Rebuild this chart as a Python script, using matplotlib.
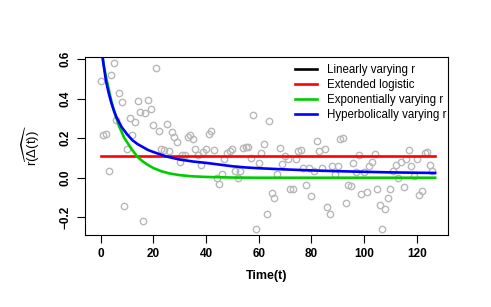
import numpy as np
import matplotlib
matplotlib.use('Agg')
import matplotlib.pyplot as plt

plt.rcParams['font.family'] = ['Liberation Sans', 'DejaVu Sans']
plt.rcParams['mathtext.fontset'] = 'custom'
plt.rcParams['mathtext.rm'] = 'Liberation Sans'
plt.rcParams['mathtext.it'] = 'Liberation Sans:italic'

# observed points, t = 0..126
r_obs = [0.487, 0.214, 0.221, 0.034, 0.52, 0.578, 0.29, 0.43, 0.384, -0.143,
         0.145, 0.30, 0.217, 0.28, 0.39, 0.33, -0.217, 0.328, 0.393, 0.349,
         0.268, 0.556, 0.237, 0.145, 0.138, 0.271, 0.133, 0.231, 0.206, 0.18,
         0.081, 0.116, 0.113, 0.207, 0.214, 0.197, 0.145, 0.113, 0.063, 0.13,
         0.145, 0.221, 0.237, 0.138, -0.002, -0.034, 0.017, 0.093, 0.123, 0.133,
         0.143, 0.035, 0.0, 0.035, 0.148, 0.157, 0.153, 0.1, 0.317, -0.261,
         0.073, 0.123, 0.169, -0.185, 0.288, -0.079, -0.101, 0.017, 0.148, 0.071,
         0.111, 0.093, -0.056, -0.056, 0.096, 0.135, 0.142, 0.05, -0.037, 0.05,
         -0.091, 0.034, 0.187, 0.137, 0.05, 0.147, -0.15, -0.183, 0.061, 0.017,
         0.061, 0.194, 0.202, -0.13, -0.037, -0.04, 0.073, 0.027, 0.116, -0.084,
         0.027, -0.074, 0.061, 0.078, 0.121, -0.057, -0.14, -0.259, -0.16, -0.104,
         -0.057, 0.034, 0.066, -0.003, 0.081, -0.047, 0.094, 0.138, 0.061, 0.01,
         0.093, -0.087, -0.067, 0.123, 0.13, 0.066, 0.034]
t_obs = np.arange(len(r_obs))

# fitted curves
t_logis = [0, 127]
r_logis = [0.111, 0.111]

t_exp = [0, 1, 2, 3, 4, 5, 6, 7, 8, 9, 10, 12, 14, 16, 18, 20, 23, 26, 30, 35,
         40, 50, 60, 127]
r_exp = [0.66, 0.58, 0.51, 0.45, 0.39, 0.34, 0.30, 0.26, 0.23, 0.20, 0.18, 0.14,
         0.105, 0.082, 0.064, 0.049, 0.033, 0.022, 0.013, 0.007, 0.004, 0.001,
         0.0, 0.0]

t_hyp = [0, 1, 2, 3, 4, 5, 6, 7, 8, 10, 12, 14, 16, 18, 20, 25, 30, 35, 40, 50,
         55, 60, 70, 80, 90, 100, 110, 127]
r_hyp = [0.71, 0.58, 0.49, 0.43, 0.38, 0.34, 0.305, 0.28, 0.255, 0.22, 0.19,
         0.17, 0.155, 0.14, 0.13, 0.107, 0.092, 0.082, 0.075, 0.058, 0.052, 0.048,
         0.042, 0.037, 0.033, 0.030, 0.027, 0.024]

fig = plt.figure(figsize=(4.91, 3.07), dpi=100)
ax = fig.add_axes([85/491, 1-235/307, (448.3-85)/491, (235-56.7)/307])

ax.plot(t_obs, r_obs, 'o', mfc='none', mec='#b8b8b8', ms=4.6, mew=1.0)
ax.plot([], [], color='black', lw=1.9, label='Linearly varying r')
ax.plot(t_logis, r_logis, color='#ff0000', lw=1.9, label='Extended logistic')
ax.plot(t_exp, r_exp, color='#00cd00', lw=1.9, label='Exponentially varying r')
ax.plot(t_hyp, r_hyp, color='#0000ff', lw=1.9, label='Hyperbolically varying r')

ax.set_xlim(-5.96, 132.0)
ax.set_ylim(-0.2894, 0.6116)
ax.set_xticks([0, 20, 40, 60, 80, 100, 120])
ax.set_yticks([-0.2, 0.0, 0.2, 0.4, 0.6])
ax.set_yticklabels(['\u22120.2', '0.0', '0.2', '0.4', '0.6'], rotation=90, va='center')
ax.tick_params(direction='out', length=5.5, width=0.8, labelsize=8.5, pad=4)
for lab in ax.get_xticklabels() + ax.get_yticklabels():
    lab.set_fontweight('bold')
for s in ax.spines.values():
    s.set_linewidth(0.8)

ax.set_xlabel('Time(t)', fontsize=9, fontweight='bold', labelpad=7)
ax.set_ylabel(r'$\widehat{\mathrm{r(\Delta(t))}}$', fontsize=9.5, labelpad=13)

leg = ax.legend(loc='upper left', bbox_to_anchor=(295/491, 1-64/307),
                bbox_transform=fig.transFigure, frameon=False, fontsize=8.3,
                handlelength=1.9, handletextpad=0.85, labelspacing=0.25,
                borderpad=0, borderaxespad=0)

fig.savefig('out.png', dpi=100)
